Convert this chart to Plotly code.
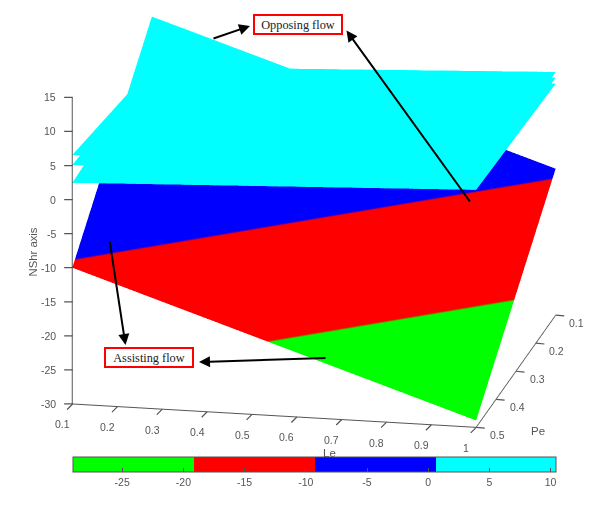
import math
import plotly.graph_objects as go

le_values = [0.1, 1.0]
pe_values = [0.1, 0.5]
# NShr at the four corners, rows follow pe_values, columns follow le_values
nshr_tilted = [[10.4, -8.5], [-10.0, -29.0]]
nshr_opposing_low = [[3.8, 3.97], [2.46, 4.85]]
nshr_opposing_mid = [[3.13, 4.85], [5.09, 4.9]]
nshr_opposing_top = [[3.0, 5.7], [6.56, 4.9]]

band_edges = [-29.06, -19.2, -9.3, 0.56, 10.4]
band_colors = ["#00ff00", "#ff0000", "#0000ff", "#00ffff"]
cbar_ticks = [-25, -20, -15, -10, -5, 0, 5, 10]
le_ticks = [0.1, 0.2, 0.3, 0.4, 0.5, 0.6, 0.7, 0.8, 0.9, 1]
pe_ticks = [0.1, 0.2, 0.3, 0.4, 0.5]
nshr_ticks = [-30, -25, -20, -15, -10, -5, 0, 5, 10, 15]

PAGE = 8  # the page body's own margin
W, H = 613 - PAGE, 509 - PAGE
GREY = "#555555"
FONT = "Liberation Sans"
TICKFONT = dict(family=FONT, size=10.5, color=GREY)


def px(x):
    return (x - PAGE) / W


def py(y):
    return 1 - (y - PAGE) / H


span = band_edges[-1] - band_edges[0]
colorscale = []
for i, c in enumerate(band_colors):
    colorscale.append([(band_edges[i] - band_edges[0]) / span, c])
    colorscale.append([(band_edges[i + 1] - band_edges[0]) / span, c])

common = dict(
    x=le_values, y=pe_values, cmin=band_edges[0], cmax=band_edges[-1],
    colorscale=colorscale,
    lighting=dict(ambient=1, diffuse=0, specular=0, fresnel=0, roughness=1),
    hoverinfo="skip",
)
fig = go.Figure()
for z in (nshr_opposing_low, nshr_opposing_mid, nshr_opposing_top):
    fig.add_trace(go.Surface(z=z, showscale=False, **common))
fig.add_trace(go.Surface(
    z=nshr_tilted, showscale=True,
    colorbar=dict(
        orientation="h", x=px(72.5), xanchor="left", xref="paper",
        y=py(457), yanchor="top", yref="paper",
        lenmode="pixels", len=482.5, thicknessmode="pixels", thickness=15,
        xpad=0, ypad=0, outlinecolor=GREY, outlinewidth=1,
        tickvals=cbar_ticks, ticktext=[str(t) for t in cbar_ticks],
        ticks="inside", ticklen=4, tickcolor=GREY, tickfont=TICKFONT,
    ),
    **common))

theta, phi, r = math.radians(11.45), math.radians(16.6), 2.0
view_drop = -0.2176


def axis(rng):
    return dict(
        range=rng, ticks="", showticklabels=False,
        showgrid=False, zeroline=False, showbackground=False, showspikes=False,
        showline=True, linecolor=GREY, linewidth=2, title=dict(text=""),
    )


def tick_notes(points, labels, tick_dx, tick_dy, label_dx, label_dy, anchor):
    notes = []
    for (x, y, z), label in zip(points, labels):
        notes.append(dict(x=x, y=y, z=z, text="", showarrow=True, arrowhead=0,
                          arrowwidth=1.2, arrowcolor=GREY, ax=tick_dx, ay=tick_dy))
        notes.append(dict(x=x, y=y, z=z, text=label, showarrow=False, font=TICKFONT,
                          xanchor=anchor, yanchor="middle", xshift=label_dx, yshift=-label_dy))
    return notes


scene_notes = (
    tick_notes([(le_values[0], pe_values[1], v) for v in nshr_ticks],
               [str(v) for v in nshr_ticks], -10, 0, -15, 0, "right")
    + tick_notes([(v, pe_values[1], nshr_ticks[0]) for v in le_ticks],
                 [str(v) for v in le_ticks], -7, 7, -10, 20.5, "center")
    + tick_notes([(le_values[1], v, nshr_ticks[0]) for v in pe_ticks],
                 [str(v) for v in pe_ticks], 10, 1, 21, 8, "center")
)

fig.update_layout(
    width=W, height=H, margin=dict(l=0, r=0, t=0, b=0, autoexpand=False),
    paper_bgcolor="white", showlegend=False,
    scene=dict(
        domain=dict(x=[px(15.4), 1], y=[0, 1]),
        aspectmode="manual", aspectratio=dict(x=1.645, y=1.60, z=1.277),
        xaxis=axis([0.1, 1]),
        yaxis=axis([0.5, 0.1]),
        zaxis=axis([-30, 15]),
        annotations=scene_notes,
        camera=dict(
            projection=dict(type="orthographic"),
            up=dict(x=0, y=0, z=1), center=dict(x=0, y=0, z=view_drop),
            eye=dict(x=r * math.sin(theta) * math.cos(phi),
                     y=-r * math.cos(theta) * math.cos(phi),
                     z=view_drop + r * math.sin(phi)),
        ),
    ),
)

labels = [("Opposing flow", 297.5, 24.5, 86, 17), ("Assisting flow", 148.7, 357.5, 86, 17)]
for text, x, y, w, h in labels:
    fig.add_annotation(
        text=text, x=px(x), y=py(y), xref="paper", yref="paper", showarrow=False,
        xanchor="center", yanchor="middle",
        width=w, height=h, bgcolor="white", bordercolor="#ff0000", borderwidth=2,
        borderpad=0, font=dict(family="Liberation Serif", size=12.3, color="#222222"),
    )
arrows = [(212, 39, 250, 26), (471, 203, 346.5, 30.5), (109.5, 240, 125.5, 345), (327, 358, 199, 362)]
for x0, y0, x1, y1 in arrows:
    fig.add_annotation(
        x=px(x1), y=py(y1), xref="paper", yref="paper", text="",
        ax=x0 - x1, ay=y0 - y1, axref="pixel", ayref="pixel", showarrow=True,
        arrowhead=2, arrowsize=1.1, arrowwidth=2, arrowcolor="#000000",
    )
for text, x, y, angle, size in [("NShr axis", 32, 252.5, -90, 11.3), ("Le", 329, 453, 0, 11.5), ("Pe", 538, 431, 0, 11.5)]:
    fig.add_annotation(text=text, x=px(x), y=py(y), xref="paper", yref="paper",
                       xanchor="center", yanchor="middle", showarrow=False, textangle=angle,
                       font=dict(family=FONT, size=size, color=GREY))

fig.write_html("out.html")
